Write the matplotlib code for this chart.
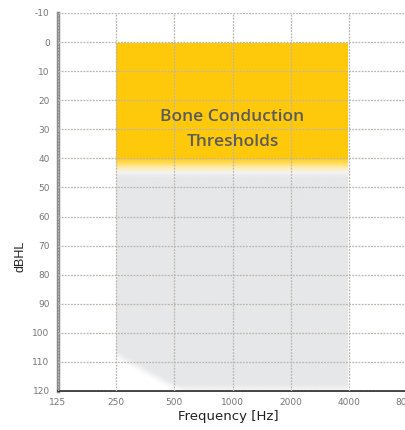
import numpy as np
import matplotlib.pyplot as plt
from matplotlib.colors import to_rgb

plt.rcParams['axes.unicode_minus'] = False

# audiogram axes
freqs = [125, 250, 500, 1000, 2000, 4000, 8000]
freq_labels = ['125', '250', '500', '1000', '2000', '4000', '8000']
db_ticks = list(range(-10, 121, 10))

# bone conduction band
band_f = [250, 4000]
yellow_db = [0, 41]     # solid yellow part
grey_db = [45, 120]     # grey part below it
corner_db = 108         # where the lower-left white fade begins at 250 Hz

yellow = np.array(to_rgb('#FFC90B'))
grey = np.array(to_rgb('#E6E7E9'))

fig = plt.figure(figsize=(4.06, 4.30), dpi=100)
ax = fig.add_axes([58 / 406, 1 - 391 / 430, (407 - 58) / 406, (391 - 13) / 430])

ax.set_xscale('log', base=2)
ax.set_xlim(freqs[0], freqs[-1])
ax.set_ylim(120, -10)

# build the gradient band as one rgba image
nx, ny = 3000, 520
f = np.linspace(band_f[0], band_f[1], nx)
u = np.log2(f / band_f[0])
d = np.linspace(0, 120, ny)
U, D = np.meshgrid(u, d)

ya = np.clip((yellow_db[1] + 4 - D) / 5.0, 0, 1)
ga = np.clip((D - grey_db[0] + 2) / 4.0, 0, 1)
# soft white corner at lower left
edge = corner_db + U * 11.0
ga *= np.clip((edge - D) / 3.0 + 0.5, 0, 1)
# soft bottom edge
ga *= np.clip((121 - D) / 3.0, 0.55, 1)

rgb = np.ones((ny, nx, 3))
for c in range(3):
    rgb[..., c] = (1 - ga) + ga * grey[c]
    rgb[..., c] = (1 - ya) * rgb[..., c] + ya * yellow[c]
ax.imshow(rgb, extent=(band_f[0], band_f[1], 120, 0), aspect='auto',
          interpolation='bilinear', zorder=0)

ax.set_xticks(freqs)
ax.set_xticklabels(freq_labels)
ax.minorticks_off()
ax.set_yticks(db_ticks)
ax.tick_params(length=0, labelsize=6.5, labelcolor='#777777', pad=6)
ax.tick_params(axis='x', pad=5)

ax.grid(True, color='#bdb6ae', linestyle=(0, (1.5, 1)), linewidth=0.9)
ax.set_axisbelow(False)

for s in ['top', 'right']:
    ax.spines[s].set_visible(False)
ax.spines['left'].set_color('#8a8a8a')
ax.spines['left'].set_linewidth(2.5)
ax.spines['bottom'].set_color('#333333')
ax.spines['bottom'].set_linewidth(1.3)

ax.text(1000, 30, 'Bone Conduction\nThresholds', ha='center', va='center',
        fontsize=12.5, fontweight='semibold', color='#5b5b5b',
        family='Open Sans', linespacing=1.75)

ax.set_xlabel('Frequency [Hz]', fontsize=9.5, color='#222222')
ax.xaxis.set_label_coords(0.487, -0.05)
ax.set_ylabel('dBHL', fontsize=9, color='#222222', family='Liberation Sans')
ax.yaxis.set_label_coords(-0.09, 0.355)

fig.savefig('out.png', dpi=100)
